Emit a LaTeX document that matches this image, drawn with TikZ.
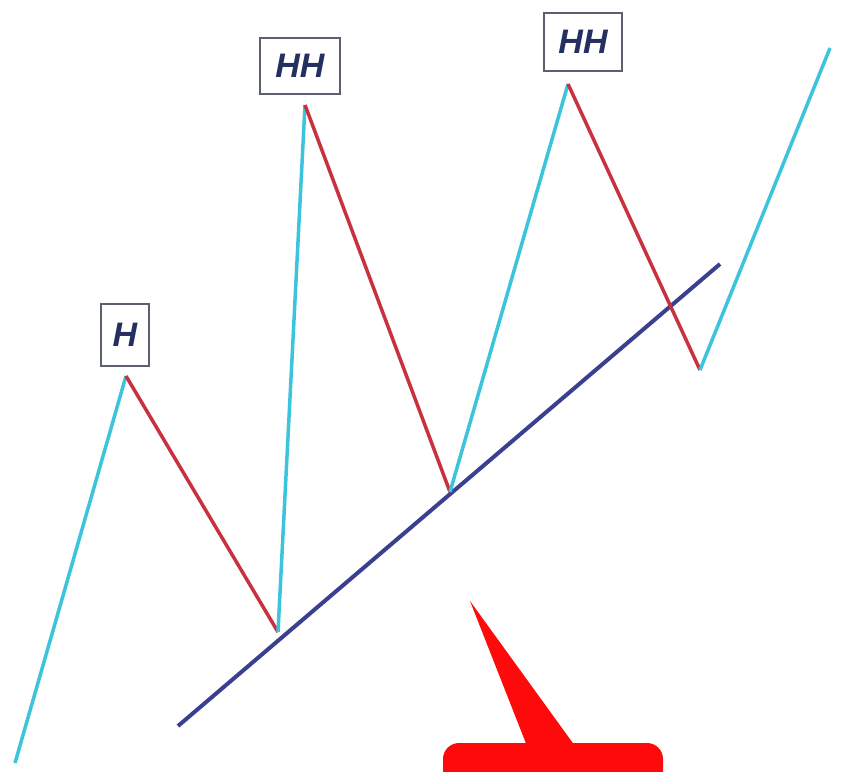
\documentclass[tikz,border=0pt]{standalone}
\usepackage{fontspec}
\setmainfont{Liberation Sans}
\definecolor{upc}{HTML}{3CC4DC}
\definecolor{downc}{HTML}{C8323F}
\definecolor{trendc}{HTML}{3A3F90}
\definecolor{labc}{HTML}{243060}
\definecolor{boxc}{HTML}{5A6070}
\definecolor{callc}{HTML}{FF0A0A}
\tikzset{
  upleg/.style={draw=upc, line width=3.5pt},
  downleg/.style={draw=downc, line width=3.5pt},
  trendline/.style={draw=trendc, line width=4pt},
  peaklabel/.style={draw=boxc, line width=2.5pt, fill=white, text=labc,
    font=\fontsize{34}{36}\selectfont\bfseries\itshape, inner xsep=4pt, inner ysep=6pt}
}
\begin{document}
\begin{tikzpicture}[x=1pt,y=-1pt]
\useasboundingbox (0,0) rectangle (848,771);
\clip (0,0) rectangle (848,771);
\coordinate (s0) at (15,763);
\coordinate (p1) at (126,376);
\coordinate (t1) at (278,632);
\coordinate (p2) at (305,105);
\coordinate (t2) at (450,492);
\coordinate (p3) at (568,84);
\coordinate (t3) at (700,370);
\coordinate (e) at (830,48);
\coordinate (ta) at (178,726);
\coordinate (tb) at (720,264);
\draw[trendline] (ta) -- (tb);
\draw[upleg] (s0) -- (p1);
\draw[downleg] (p1) -- (t1);
\draw[upleg] (t1) -- (p2);
\draw[downleg] (p2) -- (t2);
\draw[upleg] (t2) -- (p3);
\draw[downleg] (p3) -- (t3);
\draw[upleg] (t3) -- (e);
\node[peaklabel, minimum width=48pt, minimum height=62pt] (l1) at (125,335) {H};
\node[peaklabel, minimum width=80pt, minimum height=56pt] (l2) at (300,66) {HH};
\node[peaklabel, minimum width=78pt, minimum height=58pt] (l3) at (583,42) {HH};
\coordinate (ctip) at (470,601);
\fill[callc, rounded corners=16pt] (443,743) rectangle (663,800);
\fill[callc] (ctip) -- (575,746) -- (527,746) -- cycle;
\end{tikzpicture}
\end{document}
